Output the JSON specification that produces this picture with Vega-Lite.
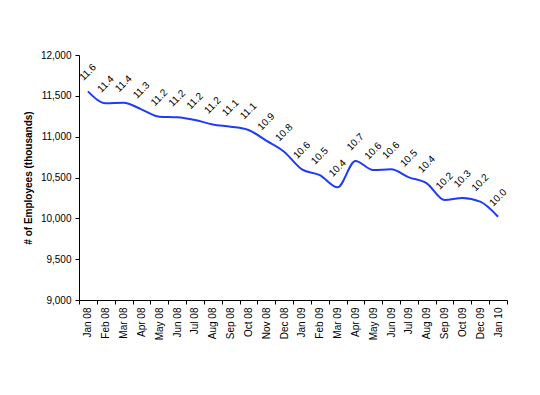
{
  "$schema": "https://vega.github.io/schema/vega-lite/v6.json",
  "width": 428,
  "height": 245,
  "autosize": {"type": "none"},
  "padding": {"left": 79, "top": 55, "right": 33, "bottom": 95},
  "background": "white",
  "config": {
    "view": {"stroke": null},
    "font": "Liberation Sans",
    "axis": {"grid": false, "domainColor": "black", "tickColor": "black", "labelColor": "black", "titleColor": "black", "labelFont": "Liberation Sans", "titleFont": "Liberation Sans", "labelFontSize": 10, "domainWidth": 1, "tickWidth": 1}
  },
  "data": {
    "values": [
      {"month": "Jan 08", "value": 11555, "label": "11.6"},
      {"month": "Feb 08", "value": 11410, "label": "11.4"},
      {"month": "Mar 08", "value": 11416, "label": "11.4"},
      {"month": "Apr 08", "value": 11335, "label": "11.3"},
      {"month": "May 08", "value": 11245, "label": "11.2"},
      {"month": "Jun 08", "value": 11237, "label": "11.2"},
      {"month": "Jul 08", "value": 11204, "label": "11.2"},
      {"month": "Aug 08", "value": 11150, "label": "11.2"},
      {"month": "Sep 08", "value": 11122, "label": "11.1"},
      {"month": "Oct 08", "value": 11082, "label": "11.1"},
      {"month": "Nov 08", "value": 10951, "label": "10.9"},
      {"month": "Dec 08", "value": 10816, "label": "10.8"},
      {"month": "Jan 09", "value": 10600, "label": "10.6"},
      {"month": "Feb 09", "value": 10530, "label": "10.5"},
      {"month": "Mar 09", "value": 10380, "label": "10.4"},
      {"month": "Apr 09", "value": 10702, "label": "10.7"},
      {"month": "May 09", "value": 10592, "label": "10.6"},
      {"month": "Jun 09", "value": 10600, "label": "10.6"},
      {"month": "Jul 09", "value": 10502, "label": "10.5"},
      {"month": "Aug 09", "value": 10429, "label": "10.4"},
      {"month": "Sep 09", "value": 10224, "label": "10.2"},
      {"month": "Oct 09", "value": 10250, "label": "10.3"},
      {"month": "Dec 09", "value": 10204, "label": "10.2"},
      {"month": "Jan 10", "value": 10020, "label": "10.0"}
    ]
  },
  "encoding": {
    "x": {
      "field": "month", "type": "ordinal", "sort": null,
      "scale": {"paddingInner": 0, "paddingOuter": 0},
      "axis": {"title": null, "labelAngle": -90, "tickBand": "extent", "tickSize": 4, "labelPadding": 3}
    },
    "y": {
      "field": "value", "type": "quantitative",
      "scale": {"domain": [9000, 12000], "nice": false, "zero": false},
      "axis": {"title": "# of Employees  (thousands)", "titleFontWeight": "bold", "titleFontSize": 10, "format": ",.0f", "values": [9000, 9500, 10000, 10500, 11000, 11500, 12000], "tickSize": 4, "labelPadding": 4, "titlePadding": 7}
    }
  },
  "layer": [
    {"mark": {"type": "line", "color": "#1f3cf5", "strokeWidth": 2, "interpolate": "monotone"}},
    {"mark": {"type": "text", "angle": -45, "radius": 19, "fontSize": 10, "color": "black", "align": "center", "baseline": "middle"}, "encoding": {"text": {"field": "label"}}}
  ]
}
